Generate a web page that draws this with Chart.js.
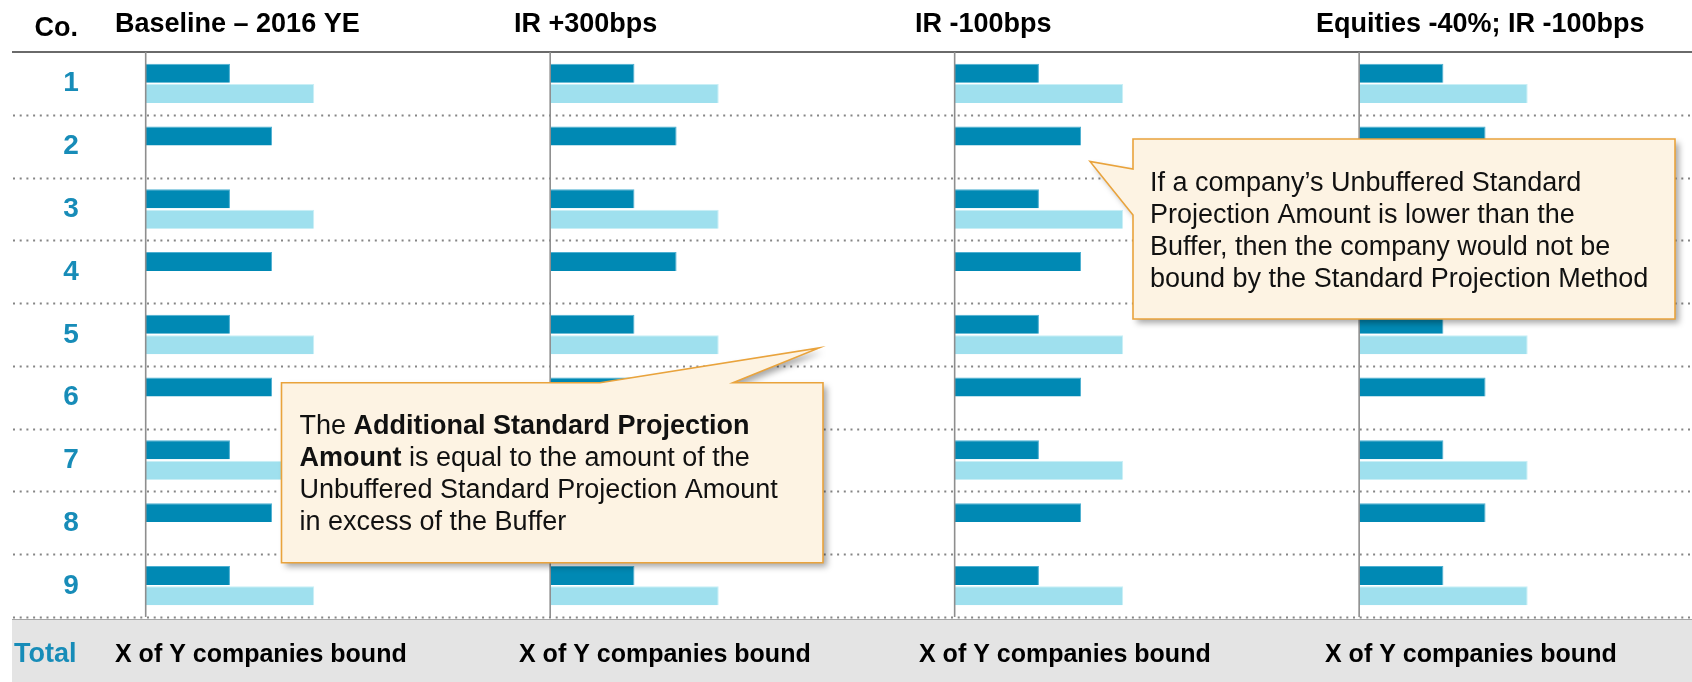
<!DOCTYPE html>
<html>
<head>
<meta charset="utf-8">
<script src="https://cdn.jsdelivr.net/npm/chart.js@4.4.0/dist/chart.umd.min.js"></script>
<style>
    html, body { margin: 0; padding: 0; background: #fff; overflow: hidden; }
    #wrap { position: relative; width: 1692px; height: 682px; }
</style>
</head>
<body>
<div id="wrap"><canvas id="grafico" width="1692" height="682"></canvas></div>
<script>
// companies (rows) and scenarios (panels)
const companies = ['1', '2', '3', '4', '5', '6', '7', '8', '9'];
const scenarios = ['Baseline – 2016 YE', 'IR +300bps', 'IR -100bps', 'Equities -40%; IR -100bps'];

// dark bar = unbuffered amount, light bar = buffer (only odd companies have one)
const baselineUnbuffered = [2, 3, 2, 3, 2, 3, 2, 3, 2];
const baselineBuffer = [4, null, 4, null, 4, null, 4, null, 4];
const ir300Unbuffered = [2, 3, 2, 3, 2, 3, 2, 3, 2];
const ir300Buffer = [4, null, 4, null, 4, null, 4, null, 4];
const ir100Unbuffered = [2, 3, 2, 3, 2, 3, 2, 3, 2];
const ir100Buffer = [4, null, 4, null, 4, null, 4, null, 4];
const equitiesUnbuffered = [2, 3, 2, 3, 2, 3, 2, 3, 2];
const equitiesBuffer = [4, null, 4, null, 4, null, 4, null, 4];

// value range shown in each panel (last panel is cut by the page edge)
const xMax = [9.6, 9.6, 9.6, 7.9];

const totalLabel = 'Total';
const totals = ['X of Y companies bound', 'X of Y companies bound', 'X of Y companies bound', 'X of Y companies bound'];

const unbuffered = [baselineUnbuffered, ir300Unbuffered, ir100Unbuffered, equitiesUnbuffered];
const buffer = [baselineBuffer, ir300Buffer, ir100Buffer, equitiesBuffer];

const FONTE = "'Liberation Sans', Arial, sans-serif";
const AZUL_ESCURO = '#0089B4';
const AZUL_CLARO = '#9FE0EE';
const AZUL_TEXTO = '#178CB8';

// header / footer text positions
const headerX = [115, 514, 915, 1316];
const totalsX = [115, 519, 919, 1325];

const balaoBuffer = {
    forma: [[1133, 139], [1675, 139], [1675, 319], [1133, 319], [1133, 215], [1090, 161.5], [1133, 169]],
    x: 1150, y: 190.5,
    linhas: [
        [['If a company’s Unbuffered Standard', false]],
        [['Projection Amount is lower than the', false]],
        [['Buffer, then the company would not be', false]],
        [['bound by the Standard Projection Method', false]]
    ]
};

const balaoAdicional = {
    forma: [[281.5, 382.7], [600, 382.7], [819, 348], [733, 382.7], [823, 382.7], [823, 562.7], [281.5, 562.7]],
    x: 299.5, y: 434,
    linhas: [
        [['The ', false], ['Additional Standard Projection', true]],
        [['Amount', true], [' is equal to the amount of the', false]],
        [['Unbuffered Standard Projection Amount', false]],
        [['in excess of the Buffer', false]]
    ]
};

function desenharBalao(ctx, balao) {
    ctx.save();
    ctx.beginPath();
    balao.forma.forEach((p, i) => i == 0 ? ctx.moveTo(p[0], p[1]) : ctx.lineTo(p[0], p[1]));
    ctx.closePath();
    ctx.shadowColor = 'rgba(0,0,0,0.35)';
    ctx.shadowBlur = 6;
    ctx.shadowOffsetX = 4;
    ctx.shadowOffsetY = 4;
    ctx.fillStyle = '#FDF3E3';
    ctx.fill();
    ctx.shadowColor = 'transparent';
    ctx.strokeStyle = '#E9A33C';
    ctx.lineWidth = 1.6;
    ctx.stroke();

    ctx.fillStyle = '#111';
    ctx.textBaseline = 'alphabetic';
    ctx.textAlign = 'left';
    balao.linhas.forEach((linha, i) => {
        let x = balao.x;
        linha.forEach(([txt, negrito]) => {
            ctx.font = (negrito ? 'bold ' : '') + '27px ' + FONTE;
            ctx.fillText(txt, x, balao.y + i * 32);
            x += ctx.measureText(txt).width;
        });
    });
    ctx.restore();
}

const decoracoes = {
    id: 'decoracoes',
    beforeDraw(chart) {
        const ctx = chart.ctx;
        const area = chart.chartArea;
        const rowH = (area.bottom - area.top) / companies.length;
        ctx.save();

        // grey total band
        ctx.fillStyle = '#E4E4E4';
        ctx.fillRect(12, area.bottom + 2, chart.width - 12, chart.height - area.bottom - 2);
        ctx.strokeStyle = '#A6A6A6';
        ctx.lineWidth = 1;
        ctx.beginPath();
        ctx.moveTo(12, area.bottom + 2.5);
        ctx.lineTo(chart.width, area.bottom + 2.5);
        ctx.stroke();

        // dotted row separators
        ctx.strokeStyle = '#858585';
        ctx.lineWidth = 2;
        ctx.setLineDash([2, 4.7]);
        for (let i = 1; i <= companies.length; i++) {
            const y = Math.round(area.top + i * rowH) + 0.5;
            ctx.beginPath();
            ctx.moveTo(13, y);
            ctx.lineTo(chart.width, y);
            ctx.stroke();
        }
        ctx.setLineDash([]);

        // top rule
        ctx.strokeStyle = '#6A6A6A';
        ctx.lineWidth = 2;
        ctx.beginPath();
        ctx.moveTo(12, area.top);
        ctx.lineTo(chart.width, area.top);
        ctx.stroke();
        ctx.restore();
    },
    afterDatasetsDraw(chart) {
        const ctx = chart.ctx;
        const area = chart.chartArea;
        const yScale = chart.scales.y;
        ctx.save();

        // panel axis lines
        ctx.strokeStyle = '#8E8E8E';
        ctx.lineWidth = 1.6;
        scenarios.forEach((s, i) => {
            const x = chart.scales['x' + i].left;
            ctx.beginPath();
            ctx.moveTo(x, area.top);
            ctx.lineTo(x, area.bottom);
            ctx.stroke();
        });

        // headers
        ctx.fillStyle = '#000';
        ctx.textAlign = 'left';
        ctx.textBaseline = 'alphabetic';
        ctx.font = 'bold 27px ' + FONTE;
        ctx.fillText('Co.', 34.5, 36);
        scenarios.forEach((s, i) => ctx.fillText(s, headerX[i], 32.3));

        // company numbers
        ctx.fillStyle = AZUL_TEXTO;
        ctx.textAlign = 'center';
        ctx.font = 'bold 28px ' + FONTE;
        companies.forEach((c, i) => {
            ctx.fillText(c, 71, yScale.getPixelForValue(i) + 8);
        });

        // totals row
        ctx.textAlign = 'left';
        ctx.font = 'bold 27px ' + FONTE;
        ctx.fillText(totalLabel, 14, 662.3);
        ctx.fillStyle = '#000';
        ctx.font = 'bold 25px ' + FONTE;
        totals.forEach((t, i) => ctx.fillText(t, totalsX[i], 662.3));
        ctx.restore();
    },
    afterDraw(chart) {
        desenharBalao(chart.ctx, balaoAdicional);
        desenharBalao(chart.ctx, balaoBuffer);
    }
};

const datasets = [];
const scales = {
    y: {
        type: 'category',
        labels: companies,
        display: false,
        offset: true,
        grid: { display: false }
    }
};

scenarios.forEach((s, i) => {
    datasets.push({
        label: s + ' – Unbuffered',
        data: unbuffered[i],
        xAxisID: 'x' + i,
        stack: 'unbuffered',
        backgroundColor: AZUL_ESCURO,
        borderColor: '#4DB0D2',
        borderWidth: { top: 1, right: 1, bottom: 0, left: 0 },
        borderSkipped: 'start'
    });
    datasets.push({
        label: s + ' – Buffer',
        data: buffer[i],
        xAxisID: 'x' + i,
        stack: 'buffer',
        backgroundColor: AZUL_CLARO,
        borderColor: '#C9EFF6',
        borderWidth: { top: 1, right: 1, bottom: 0, left: 0 },
        borderSkipped: 'start'
    });
    scales['x' + i] = {
        type: 'linear',
        position: 'bottom',
        stack: 'panels',
        stackWeight: xMax[i] / xMax[0],
        min: 0,
        max: xMax[i],
        stacked: false,
        display: false,
        grid: { display: false }
    };
});

new Chart(document.getElementById('grafico'), {
    type: 'bar',
    data: { labels: companies, datasets: datasets },
    options: {
        indexAxis: 'y',
        responsive: false,
        animation: false,
        categoryPercentage: 0.65,
        barPercentage: 0.93,
        layout: { padding: { left: 145.7, right: 0, top: 52, bottom: 65 } },
        plugins: {
            legend: { display: false },
            tooltip: { enabled: false }
        },
        scales: scales
    },
    plugins: [decoracoes]
});
</script>
</body>
</html>
